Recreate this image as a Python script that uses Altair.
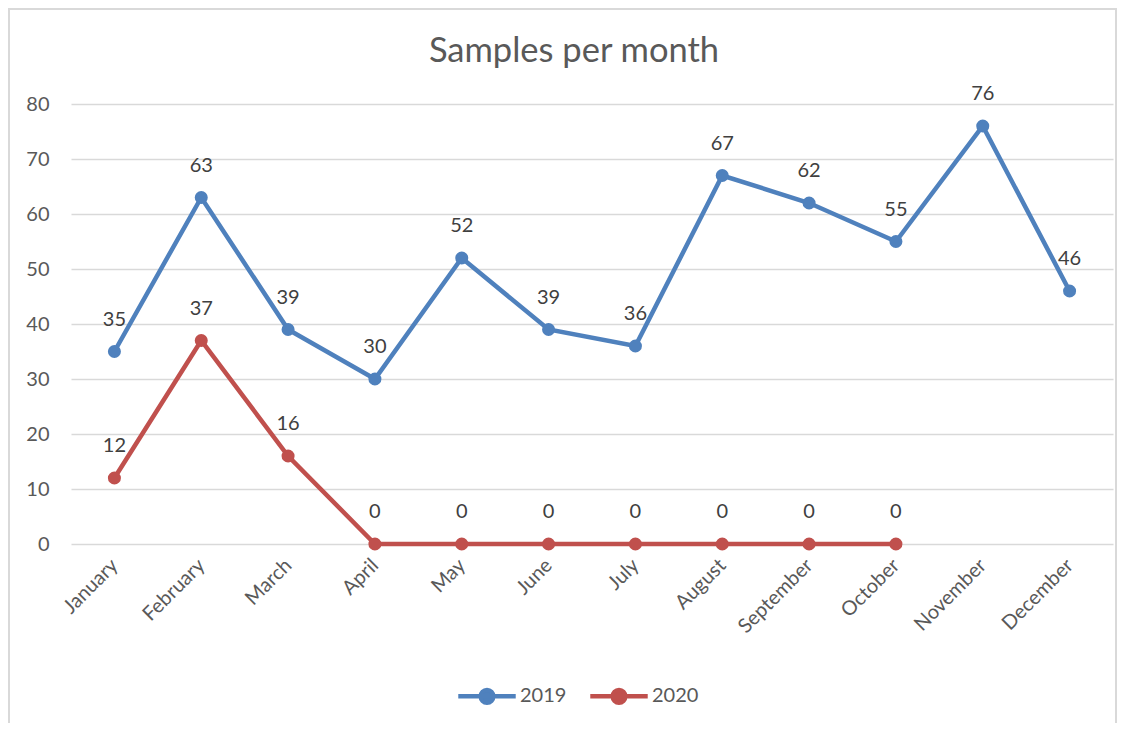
import altair as alt
import pandas as pd

months = ["January", "February", "March", "April", "May", "June", "July",
          "August", "September", "October", "November", "December"]
s2019 = [35, 63, 39, 30, 52, 39, 36, 67, 62, 55, 76, 46]
s2020 = [12, 37, 16, 0, 0, 0, 0, 0, 0, 0, None, None]
years = ["2019", "2020"]
colors = ["#4f81bd", "#c0504d"]
y_ticks = [0, 10, 20, 30, 40, 50, 60, 70, 80]

rows = []
for m, v in zip(months, s2019):
    rows.append({"Month": m, "Samples": v, "Year": "2019"})
for m, v in zip(months, s2020):
    if v is not None:
        rows.append({"Month": m, "Samples": v, "Year": "2020"})
df = pd.DataFrame(rows)

FONT = "Lato"
TXT = "#595959"

x = alt.X("Month:N", sort=months, scale=alt.Scale(paddingInner=0, paddingOuter=0.5),
          axis=alt.Axis(title=None, labelAngle=-45, labelAlign="right", labelBaseline="middle",
                        labelFontSize=20, labelColor=TXT, labelFont=FONT, ticks=False,
                        domain=False, labelPadding=18, grid=False))
y = alt.Y("Samples:Q", scale=alt.Scale(domain=[0, 80], nice=False),
          axis=alt.Axis(title=None, values=y_ticks, labelFontSize=20, labelColor=TXT,
                        labelFont=FONT, ticks=False, domain=False, labelPadding=22,
                        gridColor="#d9d9d9", gridWidth=1.3))
color = alt.Color("Year:N", scale=alt.Scale(domain=years, range=colors),
                  legend=alt.Legend(title=None, orient="none", legendX=385, legendY=561,
                                    direction="horizontal",
                                    labelFontSize=20, labelColor=TXT, labelFont=FONT,
                                    symbolType="M-1,0H1M-0.22,0A0.22,0.22,0,1,0,0.22,0A0.22,0.22,0,1,0,-0.22,0Z",
                                    symbolSize=3300, symbolStrokeWidth=4.5,
                                    columnPadding=14, labelOffset=2))

base = alt.Chart(df).encode(x=x, y=y, color=color)
lines = base.mark_line(strokeWidth=4.5, point=alt.OverlayMarkDef(filled=True, size=170, opacity=1))
labels = base.mark_text(dy=-32, fontSize=20, font=FONT, color="#404040").encode(
    text="Samples:Q", color=alt.value("#404040"))

border = alt.Chart(pd.DataFrame({"a": [0]})).mark_rect(
    fill=None, stroke="#d9d9d9", strokeWidth=2).encode(
    x=alt.value(-62), x2=alt.value(1045), y=alt.value(-95), y2=alt.value(640))

chart = alt.layer(border, lines, labels).properties(
    width=1042, height=440,
    title=alt.TitleParams("Samples per month", fontSize=34.5, font=FONT, color=TXT,
                          fontWeight="normal", anchor="middle", offset=-61, dx=-18),
    autosize=alt.AutoSizeParams(type="none"),
    padding={"left": 63, "top": 96, "right": 11, "bottom": 179},
).configure_view(stroke=None)

chart.save("out.html", embed_options={"renderer": "svg", "actions": False})
